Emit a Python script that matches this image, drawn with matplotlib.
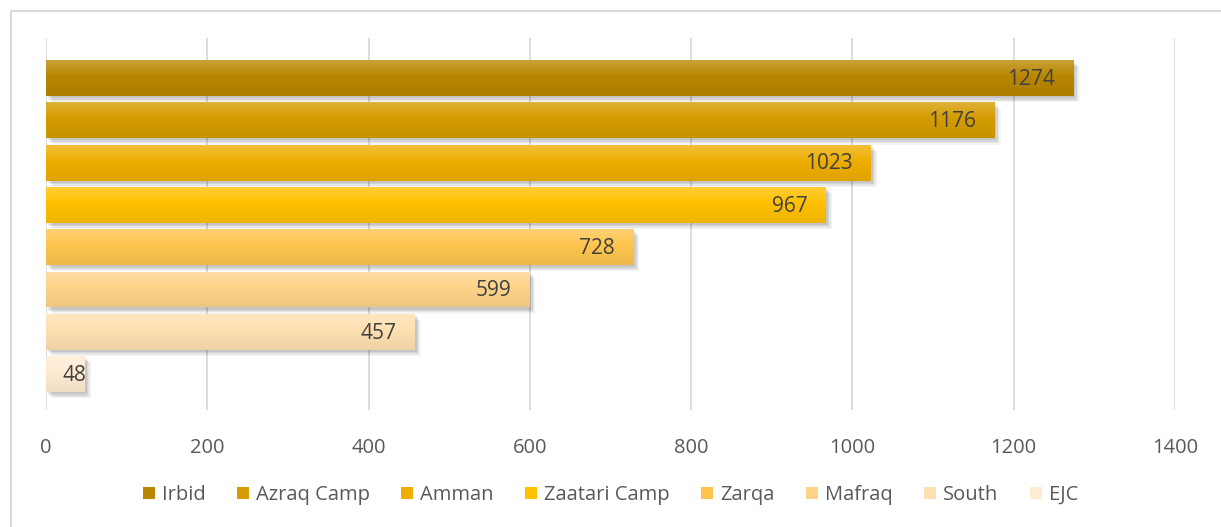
import numpy as np
import matplotlib
matplotlib.use("Agg")
import matplotlib.pyplot as plt
import matplotlib.colors as mcolors
from matplotlib.patches import Patch
from matplotlib.lines import Line2D
import matplotlib.patheffects as pe
from matplotlib.transforms import offset_copy

categories = ["Irbid", "Azraq Camp", "Amman", "Zaatari Camp", "Zarqa", "Mafraq", "South", "EJC"]
values = [1274, 1176, 1023, 967, 728, 599, 457, 48]
colors = ["#B98600", "#D49C00", "#EEAD00", "#FFC000", "#FDC54E", "#FDD38A", "#FEE0B0", "#FEEBD2"]
xticks = [0, 200, 400, 600, 800, 1000, 1200, 1400]

plt.rcParams['font.family'] = ['Open Sans', 'DejaVu Sans']

W, H = 1221, 527
fig = plt.figure(figsize=(W / 100, H / 100), dpi=100)
ax = fig.add_axes([46 / W, 1 - 410 / H, 1129 / W, 372 / H])

ypos = np.arange(len(categories))
bar_h = 0.85
ax.set_xlim(0, 1400)
ax.set_ylim(7.85, -0.95)

for x in xticks:
    ax.axvline(x, color="#D9D9D9", lw=1.3, zorder=0)

def shade(c, f):
    r = np.array(mcolors.to_rgb(c))
    if f > 0:
        return r + (1 - r) * f
    return r * (1 + f)

shadows = [pe.SimplePatchShadow(offset=(o, -o), shadow_rgbFace="#000000", alpha=a)
           for o, a in [(4.5, 0.04), (3.5, 0.06), (2.5, 0.07), (1.5, 0.07)]]
bars = ax.barh(ypos, values, height=bar_h, color=colors, zorder=2,
               path_effects=shadows + [pe.Normal()])

for b, c in zip(bars, colors):
    x0, y0 = b.get_x(), b.get_y()
    w, h = b.get_width(), b.get_height()
    top = shade(c, 0.22)
    mid = shade(c, 0.0)
    bot = shade(c, -0.06)
    n = 50
    t = np.linspace(0, 1, n)[:, None]
    grad = np.where(t < 0.45, top + (mid - top) * (t / 0.45), mid + (bot - mid) * ((t - 0.45) / 0.55))
    img = grad[:, None, :].repeat(2, axis=1)
    im = ax.imshow(img, extent=[x0, x0 + w, y0 + h, y0], aspect="auto", zorder=3, interpolation="bilinear")
    im.set_clip_path(b)

for y, v in zip(ypos, values):
    pad_pts = -13 if v > 100 else 1
    tr = offset_copy(ax.transData, fig=fig, x=pad_pts, y=0, units="points")
    ax.text(v, y + 0.03, str(v), ha="right", va="center", transform=tr,
            fontsize=15, color="#404040", zorder=5)

ax.set_ylim(7.85, -0.95)
ax.set_xlim(0, 1400)
ax.set_xticks(xticks)
ax.set_xticklabels([str(x) for x in xticks], fontsize=14.5, color="#595959")
ax.tick_params(axis="x", length=0, pad=20)
ax.set_yticks([])
for s in ax.spines.values():
    s.set_visible(False)

handles = [Patch(facecolor=c, edgecolor="none") for c in colors]
leg = fig.legend(handles, categories, loc="center", bbox_to_anchor=(0.5, 1 - 495 / H), ncol=8,
                 frameon=False, fontsize=14.5, handlelength=0.6, handleheight=0.6,
                 handletextpad=0.35, columnspacing=1.55)
for t in leg.get_texts():
    t.set_color("#595959")

fig.add_artist(Line2D([11 / W, 11 / W], [0, 1 - 11 / H], transform=fig.transFigure, color="#D9D9D9", lw=1.5))
fig.add_artist(Line2D([11 / W, 1], [1 - 11 / H, 1 - 11 / H], transform=fig.transFigure, color="#D9D9D9", lw=1.5))

fig.savefig("out.png", dpi=100)
